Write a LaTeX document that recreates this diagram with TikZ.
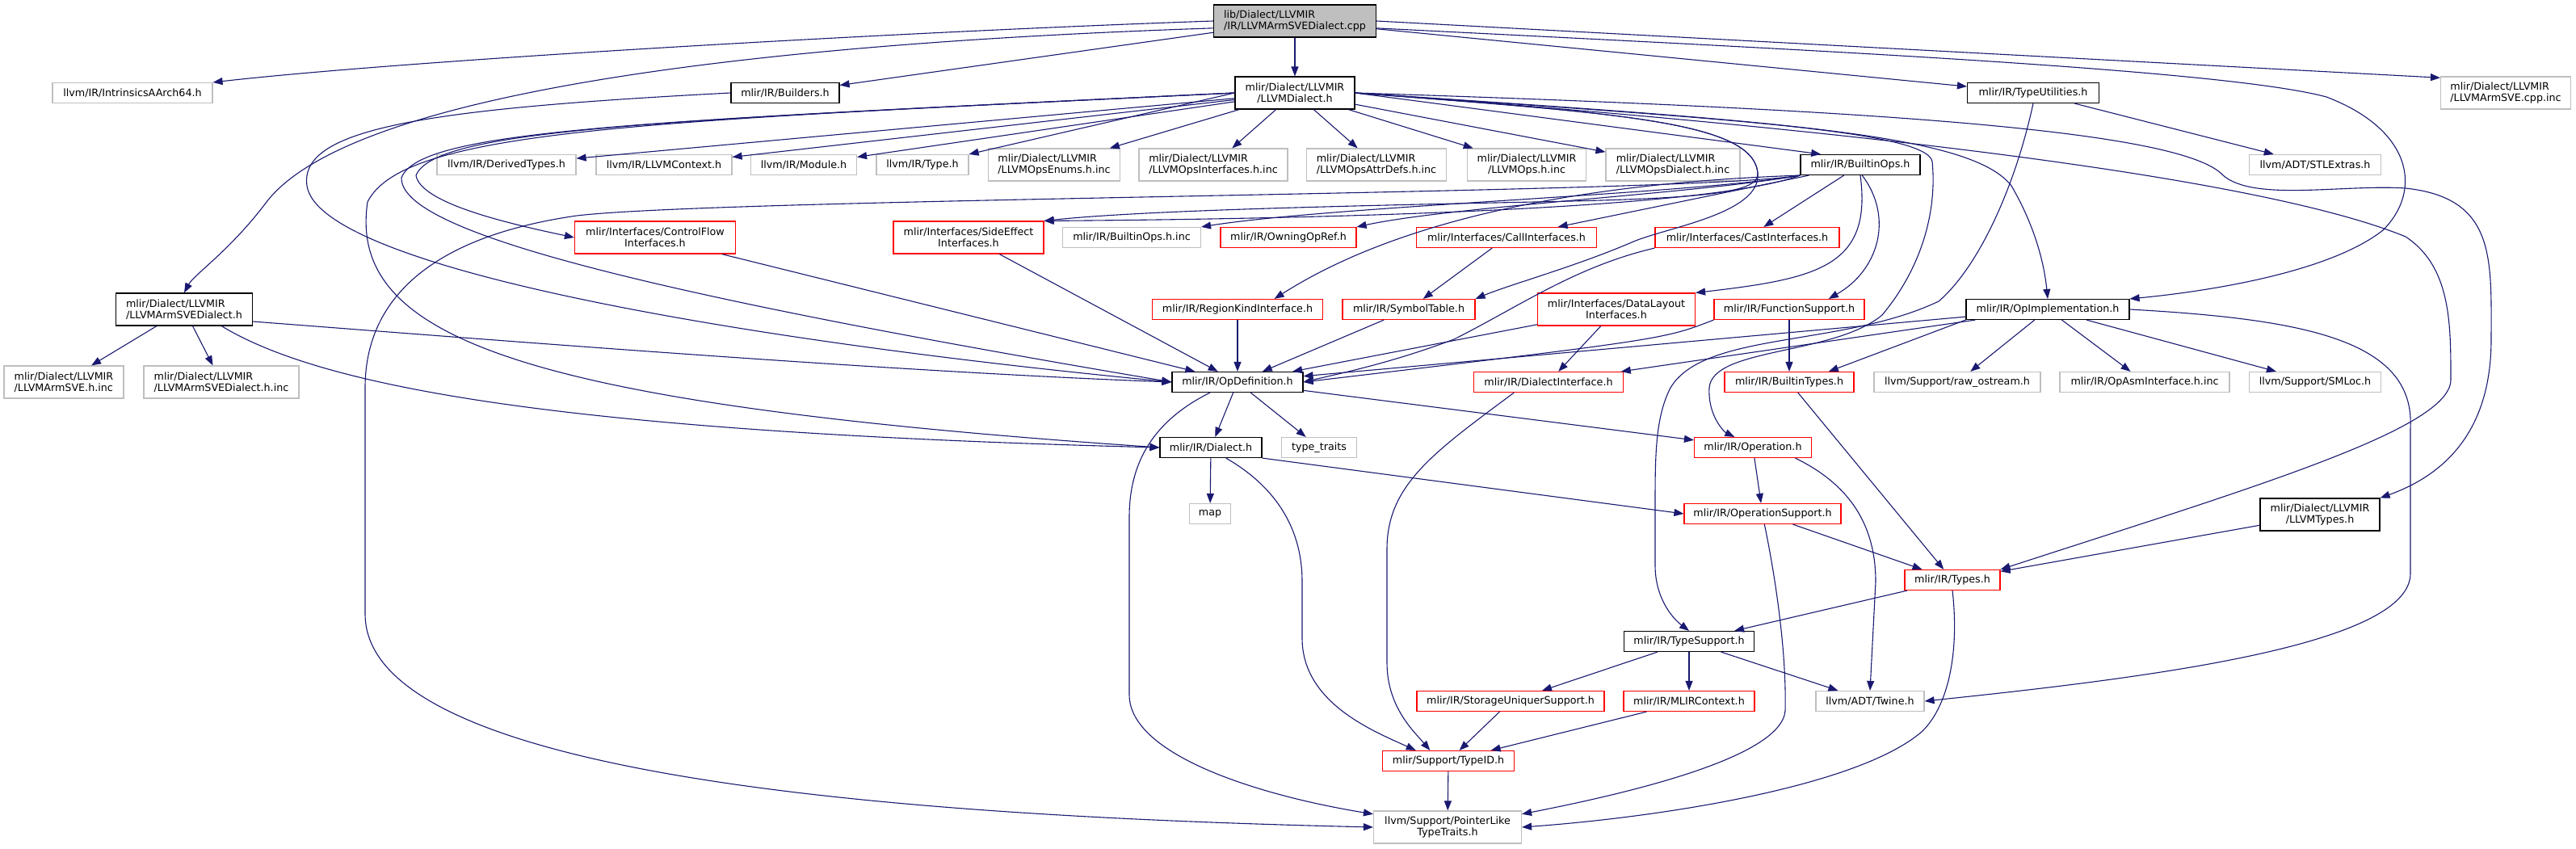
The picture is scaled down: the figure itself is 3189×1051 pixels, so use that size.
\documentclass[tikz,border=0pt]{standalone}
\usepackage{fontspec}
\setmainfont{DejaVu Sans}
\usetikzlibrary{arrows.meta}
\definecolor{edgeblue}{HTML}{191970}
\definecolor{extgray}{HTML}{BFBFBF}
\definecolor{curgray}{HTML}{BFBFBF}
\newcommand\nodefont{\fontsize{12.7}{14}\selectfont}
\begin{document}
\begin{tikzpicture}[x=1pt, y=-1pt]

    % Estilo dos nós e das ligações
    \tikzset{
        box/.style={draw, line width=1.15pt, fill=white, inner sep=0pt, minimum height=25pt, align=center, font=\nodefont},
        doc/.style={box, draw=black},
        ext/.style={box, draw=extgray},
        trn/.style={box, draw=red},
        cur/.style={box, draw=black, fill=curgray},
        two/.style={minimum height=40pt},
        dep/.style={draw=edgeblue, line width=1.1pt, -{Triangle[length=12pt, width=9pt]}}
    }

    \useasboundingbox (0,0) rectangle (3189,1051);

    % --------------------
    % Nível 0 e 1
    % --------------------
    \node[cur, two, align=left, minimum width=201pt] (main) at (1603,26) {lib/Dialect/LLVMIR\\/IR/LLVMArmSVEDialect.cpp};

    \node[ext, minimum width=198pt] (intr) at (164,115) {llvm/IR/IntrinsicsAArch64.h};
    \node[doc, minimum width=134pt] (build) at (972,115) {mlir/IR/Builders.h};
    \node[doc, two, minimum width=148pt] (ldia) at (1603,115) {mlir/Dialect/LLVMIR\\/LLVMDialect.h};
    \node[doc, minimum width=163pt] (tutil) at (2517,115) {mlir/IR/TypeUtilities.h};
    \node[ext, two, align=left, minimum width=161pt] (cppinc) at (3102,115) {mlir/Dialect/LLVMIR\\/LLVMArmSVE.cpp.inc};

    % --------------------
    % Nível 2
    % --------------------
    \node[ext, minimum width=172pt] (derty) at (627,204) {llvm/IR/DerivedTypes.h};
    \node[ext, minimum width=168pt] (llctx) at (822,204) {llvm/IR/LLVMContext.h};
    \node[ext, minimum width=131pt] (modu) at (995,204) {llvm/IR/Module.h};
    \node[ext, minimum width=114pt] (ltype) at (1142,204) {llvm/IR/Type.h};
    \node[ext, two, align=left, minimum width=163pt] (enums) at (1305,204) {mlir/Dialect/LLVMIR\\/LLVMOpsEnums.h.inc};
    \node[ext, two, align=left, minimum width=184pt] (ifaces) at (1502,204) {mlir/Dialect/LLVMIR\\/LLVMOpsInterfaces.h.inc};
    \node[ext, two, align=left, minimum width=173pt] (attrd) at (1704,204) {mlir/Dialect/LLVMIR\\/LLVMOpsAttrDefs.h.inc};
    \node[ext, two, minimum width=147pt] (llops) at (1890,204) {mlir/Dialect/LLVMIR\\/LLVMOps.h.inc};
    \node[ext, two, align=left, minimum width=166pt] (opsdia) at (2071,204) {mlir/Dialect/LLVMIR\\/LLVMOpsDialect.h.inc};
    \node[doc, minimum width=148pt] (bops) at (2303,204) {mlir/IR/BuiltinOps.h};
    \node[ext, minimum width=163pt] (stl) at (2866,204) {llvm/ADT/STLExtras.h};

    % --------------------
    % Nível 3 e 4
    % --------------------
    \node[trn, two, minimum width=199pt] (cflow) at (811,294) {mlir/Interfaces/ControlFlow\\Interfaces.h};
    \node[trn, two, minimum width=186pt] (seff) at (1199,294) {mlir/Interfaces/SideEffect\\Interfaces.h};
    \node[ext, minimum width=171pt] (bopsinc) at (1401,294) {mlir/IR/BuiltinOps.h.inc};
    \node[trn, minimum width=168pt] (owning) at (1595,294) {mlir/IR/OwningOpRef.h};
    \node[trn, minimum width=223pt] (call) at (1865,294) {mlir/Interfaces/CallInterfaces.h};
    \node[trn, minimum width=228pt] (cast) at (2163,294) {mlir/Interfaces/CastInterfaces.h};

    \node[doc, two, align=left, minimum width=169pt] (arms) at (228,383) {mlir/Dialect/LLVMIR\\/LLVMArmSVEDialect.h};
    \node[trn, minimum width=211pt] (regk) at (1532,383) {mlir/IR/RegionKindInterface.h};
    \node[trn, minimum width=164pt] (symt) at (1744,383) {mlir/IR/SymbolTable.h};
    \node[trn, two, minimum width=195pt] (dlay) at (2001,383) {mlir/Interfaces/DataLayout\\Interfaces.h};
    \node[trn, minimum width=186pt] (fsup) at (2215,383) {mlir/IR/FunctionSupport.h};
    \node[doc, minimum width=202pt] (opimpl) at (2535,383) {mlir/IR/OpImplementation.h};

    % --------------------
    % Nível 5 a 7
    % --------------------
    \node[ext, two, align=left, minimum width=148pt] (armsinc) at (79,473) {mlir/Dialect/LLVMIR\\/LLVMArmSVE.h.inc};
    \node[ext, two, align=left, minimum width=192pt] (armsdinc) at (274,473) {mlir/Dialect/LLVMIR\\/LLVMArmSVEDialect.h.inc};
    \node[doc, minimum width=162pt] (opdef) at (1532,473) {mlir/IR/OpDefinition.h};
    \node[trn, minimum width=185pt] (diai) at (1917,473) {mlir/IR/DialectInterface.h};
    \node[trn, minimum width=160pt] (btyp) at (2215,473) {mlir/IR/BuiltinTypes.h};
    \node[ext, minimum width=206pt] (raw) at (2423,473) {llvm/Support/raw\_ostream.h};
    \node[ext, minimum width=210pt] (asm) at (2655,473) {mlir/IR/OpAsmInterface.h.inc};
    \node[ext, minimum width=163pt] (smloc) at (2866,473) {llvm/Support/SMLoc.h};

    \node[doc, minimum width=126pt] (dial) at (1499,554) {mlir/IR/Dialect.h};
    \node[ext, minimum width=93pt] (ttr) at (1633,554) {type\_traits};
    \node[trn, minimum width=145pt] (oper) at (2170,554) {mlir/IR/Operation.h};

    \node[ext, minimum width=51pt] (map) at (1498,636) {map};
    \node[trn, minimum width=194pt] (osup) at (2182,636) {mlir/IR/OperationSupport.h};
    \node[doc, two, minimum width=148pt] (lltyp) at (2872,637) {mlir/Dialect/LLVMIR\\/LLVMTypes.h};

    % --------------------
    % Nível 8 a 12
    % --------------------
    \node[trn, minimum width=118pt] (types) at (2417,718) {mlir/IR/Types.h};
    \node[doc, minimum width=161pt] (tsup) at (2091,794) {mlir/IR/TypeSupport.h};
    \node[trn, minimum width=232pt] (sun) at (1870,868) {mlir/IR/StorageUniquerSupport.h};
    \node[trn, minimum width=162pt] (mctx) at (2091,868) {mlir/IR/MLIRContext.h};
    \node[ext, minimum width=134pt] (twine) at (2315,868) {llvm/ADT/Twine.h};
    \node[trn, minimum width=163pt] (tid) at (1793,942) {mlir/Support/TypeID.h};
    \node[ext, two, minimum width=183pt] (ptr) at (1792,1024) {llvm/Support/PointerLike\\TypeTraits.h};

    % --------------------
    % Ligações do arquivo principal
    % --------------------
    \draw[dep] (main.west) .. controls (1100,40) and (500,75) .. (intr.north east);
    \draw[dep] (main.185) .. controls (900,55) and (430,120) .. (330,250) .. controls (285,310) and (240,340) .. (arms.north);
    \draw[dep] (main) -- (build);
    \draw[dep] (main) -- (ldia);
    \draw[dep] (main) -- (tutil);
    \draw[dep] (main.east) -- (cppinc.167);
    \draw[dep] (main.-5) .. controls (2200,60) and (2750,85) .. (2880,120) .. controls (2985,160) and (3000,235) .. (2950,285) .. controls (2880,340) and (2720,362) .. (opimpl.north east);

    % --------------------
    % LLVMDialect.h
    % --------------------
    \foreach \t in {derty,llctx,modu,enums,ifaces,attrd,llops,opsdia}
        \draw[dep] (ldia) -- (\t);
    \draw[dep] (ldia.west) -- (ltype.north east);
    \draw[dep] (ldia.east) -- (bops.165);
    \draw[dep] (ldia.west) .. controls (800,150) and (540,160) .. (515,217) .. controls (520,250) and (620,275) .. (cflow.west);
    \draw[dep] (ldia.west) .. controls (800,150) and (520,160) .. (497,220) .. controls (495,285) and (780,360) .. (opdef.west);
    \draw[dep] (ldia.west) .. controls (800,150) and (500,160) .. (455,250) .. controls (430,420) and (650,500) .. (dial.west);
    \draw[dep] (ldia.east) .. controls (2000,140) and (2172,150) .. (2176,215) .. controls (2178,240) and (2100,246) .. (1900,250) .. controls (1600,256) and (1400,262) .. (seff.north east);
    \draw[dep] (ldia.east) .. controls (2000,140) and (2172,150) .. (2176,215) .. controls (2180,265) and (2060,282) .. (2020,300) .. controls (1950,330) and (1870,352) .. (symt.north east);
    \draw[dep] (ldia.east) .. controls (2200,150) and (2440,165) .. (2490,230) .. controls (2525,290) and (2532,340) .. (opimpl.north);
    \draw[dep] (ldia.east) .. controls (2100,145) and (2385,160) .. (2392,200) .. controls (2398,260) and (2380,330) .. (2330,390) .. controls (2270,440) and (2120,430) .. (2116,480) .. controls (2114,515) and (2135,535) .. (oper.150);
    \draw[dep] (ldia.east) .. controls (2300,160) and (2800,220) .. (2978,293) .. controls (3034,330) and (3034,400) .. (3034,470) .. controls (3034,530) and (2800,600) .. (types.north east);
    \draw[dep] (ldia.east) .. controls (2300,135) and (2700,160) .. (2752,217) .. controls (2790,250) and (2900,228) .. (2978,233) .. controls (3090,245) and (3084,320) .. (3084,420) .. controls (3084,540) and (3020,590) .. (lltyp.north east);

    % --------------------
    % TypeUtilities.h
    % --------------------
    \draw[dep] (tutil) -- (stl);
    \draw[dep] (tutil.south) .. controls (2495,230) and (2450,330) .. (2400,373) .. controls (2280,430) and (2110,410) .. (2068,480) .. controls (2050,515) and (2049,560) .. (2049,620) -- (2049,700) .. controls (2049,740) and (2070,765) .. (tsup.north);

    % --------------------
    % BuiltinOps.h
    % --------------------
    \draw[dep] (bops.south west) .. controls (2100,265) and (1500,272) .. (seff.north east);
    \draw[dep] (bops.south west) .. controls (2100,240) and (1650,255) .. (bopsinc.north east);
    \draw[dep] (bops.south west) .. controls (2100,240) and (1800,255) .. (owning.north east);
    \draw[dep] (bops) -- (call);
    \draw[dep] (bops) -- (cast);
    \draw[dep] (bops.south west) .. controls (2000,225) and (1750,260) .. (regk.16);
    \draw[dep] (bops.south) .. controls (2318,330) and (2250,345) .. (dlay.north east);
    \draw[dep] (bops.-80) .. controls (2345,270) and (2325,335) .. (fsup.15);
    \draw[dep] (bops.south west) .. controls (2100,240) and (900,245) .. (714,267) .. controls (520,295) and (452,380) .. (452,480) -- (452,760) .. controls (452,960) and (1100,1010) .. (ptr.west);

    % --------------------
    % OpImplementation.h
    % --------------------
    \draw[dep] (opimpl) -- (opdef);
    \draw[dep] (opimpl) -- (diai);
    \draw[dep] (opimpl.south west) -- (btyp.15);
    \draw[dep] (opimpl) -- (raw);
    \draw[dep] (opimpl) -- (asm);
    \draw[dep] (opimpl) -- (smloc);
    \draw[dep] (opimpl.east) .. controls (2850,395) and (2990,420) .. (2984,530) -- (2984,710) .. controls (2984,800) and (2650,840) .. (twine.east);

    % --------------------
    % Interfaces e OpDefinition.h
    % --------------------
    \draw[dep] (cflow) -- (opdef);
    \draw[dep] (seff) -- (opdef);
    \draw[dep] (regk) -- (opdef);
    \draw[dep] (symt) -- (opdef);
    \draw[dep] (call) -- (symt);
    \draw[dep] (cast.south west) .. controls (1950,330) and (1880,380) .. (1800,420) .. controls (1720,450) and (1660,462) .. (opdef.east);
    \draw[dep] (dlay) -- (opdef);
    \draw[dep] (dlay) -- (diai);
    \draw[dep] (fsup.south west) .. controls (2060,420) .. (opdef.east);
    \draw[dep] (fsup) -- (btyp);
    \draw[dep] (build.west) .. controls (520,135) and (370,160) .. (380,230) .. controls (395,330) and (900,420) .. (opdef.west);
    \draw[dep] (arms.-10) .. controls (600,420) and (1100,460) .. (opdef.west);
    \draw[dep] (arms.-24) .. controls (400,480) and (700,535) .. (dial.west);
    \draw[dep] (arms) -- (armsinc);
    \draw[dep] (arms) -- (armsdinc);

    \draw[dep] (opdef) -- (dial);
    \draw[dep] (opdef) -- (ttr);
    \draw[dep] (opdef) -- (oper);
    \draw[dep] (opdef.201) .. controls (1430,520) and (1398,570) .. (1398,640) -- (1398,860) .. controls (1398,935) and (1560,985) .. (ptr.170);

    % --------------------
    % Dialect.h, Operation.h e tipos
    % --------------------
    \draw[dep] (dial) -- (map);
    \draw[dep] (dial.south east) -- (osup.west);
    \draw[dep] (dial.-35) .. controls (1575,600) and (1612,650) .. (1612,720) -- (1612,790) .. controls (1612,870) and (1700,905) .. (tid.162);
    \draw[dep] (diai.197) .. controls (1775,560) and (1717,600) .. (1717,680) -- (1717,820) .. controls (1717,875) and (1750,905) .. (tid.150);

    \draw[dep] (oper) -- (osup);
    \draw[dep] (oper.-14) .. controls (2290,600) and (2322,650) .. (2322,720) -- (twine.north);
    \draw[dep] (osup) -- (types);
    \draw[dep] (osup.-80) .. controls (2195,700) and (2212,800) .. (2210,880) .. controls (2205,940) and (2000,985) .. (ptr.10);

    \draw[dep] (btyp) -- (types);
    \draw[dep] (lltyp) -- (types);
    \draw[dep] (types) -- (tsup);
    \draw[dep] (types.south) .. controls (2425,800) and (2415,870) .. (2380,905) .. controls (2300,975) and (2050,1012) .. (ptr.east);

    \draw[dep] (tsup) -- (sun);
    \draw[dep] (tsup) -- (mctx);
    \draw[dep] (tsup) -- (twine);
    \draw[dep] (sun) -- (tid);
    \draw[dep] (mctx) -- (tid);
    \draw[dep] (tid) -- (ptr);

\end{tikzpicture}
\end{document}
